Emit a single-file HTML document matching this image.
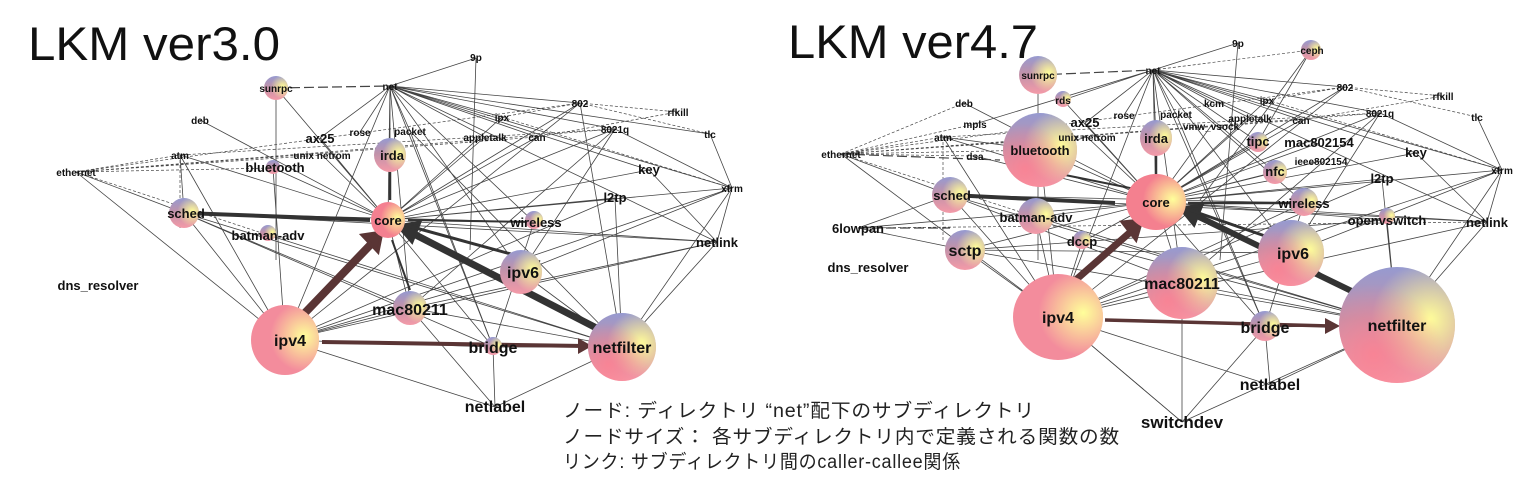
<!DOCTYPE html>
<html><head><meta charset="utf-8"><style>
html,body{margin:0;padding:0;background:#fff;}
svg{display:block;}
.t{font-family:"Liberation Sans",sans-serif;font-weight:bold;fill:#111;text-anchor:middle;}
.s{font-size:10px;}.m{font-size:13px;}.l{font-size:16px;}.x{font-size:17px;}
.h{font-family:"Liberation Sans","Noto Sans CJK JP",sans-serif;font-size:47px;fill:#111;font-weight:normal;}
.c{font-family:"Liberation Sans","Noto Sans CJK JP",sans-serif;font-size:19px;fill:#222;letter-spacing:0.8px;}
</style></head><body>
<svg width="1531" height="504" viewBox="0 0 1531 504" xmlns="http://www.w3.org/2000/svg">
<defs>
<linearGradient id="gb" x1="0" y1="0" x2="0" y2="1">
<stop offset="0" stop-color="#969ad0"/><stop offset="0.45" stop-color="#c092aa"/><stop offset="1" stop-color="#f49aa8"/></linearGradient>
<radialGradient id="gy" cx="0.78" cy="0.45" r="0.5">
<stop offset="0" stop-color="#ffff9a" stop-opacity="1"/><stop offset="1" stop-color="#ffff9a" stop-opacity="0"/></radialGradient>
<radialGradient id="gp" cx="0.3" cy="0.75" r="0.6">
<stop offset="0" stop-color="#ff7f90" stop-opacity="0.8"/><stop offset="1" stop-color="#ff7f90" stop-opacity="0"/></radialGradient>
</defs>

<text class="h" x="28" y="60" textLength="252" lengthAdjust="spacingAndGlyphs">LKM ver3.0</text>
<text class="h" x="788" y="58" textLength="250" lengthAdjust="spacingAndGlyphs">LKM ver4.7</text>

<!-- LEFT edges -->
<g stroke="#444" stroke-width="0.8" fill="none">
<path d="M390,86L476,58M390,86L580,103M390,86L502,117M390,86L615,129M390,86L537,137M390,86L485,137M390,86L320,138M390,86L360,132M390,86L410,131M390,86L390,155M390,86L388,220M390,86L534,222M390,86L649,170M390,86L732,188M390,86L717,242M390,86L710,134M390,86L521,272M390,86L285,340M390,86L410,308M390,86L493,347M476,58L470,250"/>
<path d="M388,220L320,138M388,220L322,155M388,220L485,137M388,220L537,137M388,220L502,117M388,220L580,103M388,220L615,129M388,220L649,170M388,220L615,198M388,220L732,188M388,220L717,242M388,220L273,168M388,220L180,155M388,220L200,120M388,220L410,308M388,220L493,347M388,220L276,88"/>
<path d="M285,340L184,213M285,340L495,407M285,340L410,308M285,340L521,272M285,340L732,188M285,340L717,242M285,340L493,347M285,340L76,172M285,340L180,155M285,340L273,168M285,340L615,198M285,340L580,103"/>
<path d="M622,347L493,347M622,347L495,407M622,347L521,272M622,347L732,188M622,347L717,242M622,347L615,198M622,347L184,213M622,347L268,235M622,347L410,308M622,347L410,131M622,347L580,103M622,347L732,188"/>
<path d="M184,213L76,172M184,213L410,308M184,213L534,222M184,213L717,242M184,213L493,347M184,213L180,155M493,347L410,131M493,347L534,222M493,347L495,407M495,407L410,308M521,272L732,188M521,272L615,129M410,308L615,129M410,308L717,242M717,242L732,188M717,242L649,170M732,188L710,134M732,188L615,129M276,88L276,260"/>
</g>
<g stroke="#444" stroke-width="0.7" fill="none" stroke-dasharray="3,2">
<path d="M76,172L180,155M76,172L580,103M76,172L615,129M76,172L537,137M76,172L322,155M76,172L273,168M76,172L268,235M580,103L710,134M580,103L678,112M580,103L502,117M615,129L180,155M678,112L537,137M502,117L732,188M180,155L180,230"/>
<path d="M276,88L390,86" stroke-dasharray="10,4" stroke-width="1.2"/>
</g>
<g fill="none">
<path d="M184,213L370,220" stroke="#333" stroke-width="4"/>
<path d="M300,318L375,240" stroke="#5a3535" stroke-width="8"/>
<path d="M362,235L382,232L378,252z" fill="#5a3535" stroke="#5a3535" stroke-width="3"/>
<path d="M610,335L410,232" stroke="#333" stroke-width="7"/>
<path d="M398,226L420,222L412,242z" fill="#333" stroke="#333" stroke-width="3"/>
<path d="M322,342L585,346" stroke="#5a3535" stroke-width="4"/>
<path d="M578,338L592,346L578,354z" fill="#5a3535"/>
<path d="M540,262L405,225" stroke="#333" stroke-width="3"/>
<path d="M410,290L392,240" stroke="#333" stroke-width="2"/>
<path d="M390,172L390,200" stroke="#333" stroke-width="2.5"/>
<path d="M534,222L408,220" stroke="#333" stroke-width="2"/>
</g>
<!-- LEFT nodes -->
<g>
<circle cx="276" cy="88" r="12" fill="url(#gb)"/><circle cx="276" cy="88" r="12" fill="url(#gy)"/>
<ellipse cx="390" cy="155" rx="16" ry="17" fill="url(#gb)"/><ellipse cx="390" cy="155" rx="16" ry="17" fill="url(#gy)"/>
<circle cx="273" cy="167" r="7" fill="url(#gb)"/>
<circle cx="184" cy="213" r="15" fill="url(#gb)"/><circle cx="184" cy="213" r="15" fill="url(#gy)"/>
<ellipse cx="388" cy="220" rx="17" ry="18" fill="#f48090"/><ellipse cx="388" cy="220" rx="17" ry="18" fill="url(#gy)"/>
<circle cx="534" cy="220" r="9" fill="url(#gb)"/><circle cx="534" cy="220" r="9" fill="url(#gy)"/>
<circle cx="268" cy="233" r="8" fill="url(#gb)"/><circle cx="268" cy="233" r="8" fill="url(#gy)"/>
<ellipse cx="521" cy="272" rx="21" ry="22" fill="url(#gb)"/><ellipse cx="521" cy="272" rx="21" ry="22" fill="url(#gy)"/>
<circle cx="410" cy="308" r="17" fill="url(#gb)"/><circle cx="410" cy="308" r="17" fill="url(#gy)"/>
<ellipse cx="285" cy="340" rx="34" ry="35" fill="#f38c9c"/><ellipse cx="285" cy="340" rx="34" ry="35" fill="url(#gy)"/>
<circle cx="493" cy="346" r="9" fill="url(#gb)"/><circle cx="493" cy="346" r="9" fill="url(#gy)"/>
<circle cx="622" cy="347" r="34" fill="url(#gb)"/><circle cx="622" cy="347" r="34" fill="url(#gy)"/><circle cx="622" cy="347" r="34" fill="url(#gp)"/>
</g>
<g class="t">
<text class="s" x="476" y="61">9p</text>
<text class="s" x="390" y="90">net</text>
<text class="s" x="276" y="92">sunrpc</text>
<text class="s" x="580" y="107">802</text>
<text class="s" x="678" y="116">rfkill</text>
<text class="s" x="502" y="121">ipx</text>
<text class="s" x="615" y="133">8021q</text>
<text class="s" x="710" y="138">tlc</text>
<text class="s" x="200" y="124">deb</text>
<text class="m" x="320" y="143">ax25</text>
<text class="s" x="360" y="136">rose</text>
<text class="s" x="410" y="135">packet</text>
<text class="m" x="392" y="160">irda</text>
<text class="s" x="485" y="141">appletalk</text>
<text class="s" x="537" y="141">can</text>
<text class="s" x="180" y="159">atm</text>
<text class="s" x="322" y="159">unix netrom</text>
<text class="m" x="275" y="172">bluetooth</text>
<text class="s" x="76" y="176">ethernet</text>
<text class="m" x="649" y="174">key</text>
<text class="s" x="732" y="192">xfrm</text>
<text class="m" x="615" y="202">l2tp</text>
<text class="m" x="186" y="218">sched</text>
<text class="m" x="388" y="225">core</text>
<text class="m" x="536" y="227">wireless</text>
<text class="m" x="268" y="240">batman-adv</text>
<text class="m" x="717" y="247">netlink</text>
<text class="m" x="98" y="290">dns_resolver</text>
<text class="l" x="523" y="278">ipv6</text>
<text class="l" x="410" y="315">mac80211</text>
<text class="l" x="290" y="346">ipv4</text>
<text class="l" x="493" y="353">bridge</text>
<text class="l" x="622" y="353">netfilter</text>
<text class="l" x="495" y="412">netlabel</text>
</g>

<!-- RIGHT edges -->
<g stroke="#444" stroke-width="0.8" fill="none">
<path d="M1153,70L1238,43M1153,70L1345,87M1153,70L1267,100M1153,70L1214,103M1153,70L1380,113M1153,70L1301,120M1153,70L1250,118M1153,70L1124,115M1153,70L1176,114M1153,70L1085,123M1153,70L1156,138M1153,70L1156,202M1153,70L1304,203M1153,70L1416,153M1153,70L1502,170M1153,70L1487,222M1153,70L1291,253M1153,70L1058,317M1153,70L1182,283M1153,70L1265,327M1153,70L1258,142M1153,70L1275,172M1153,70L1063,100M1153,70L975,124M1238,43L1220,260M1311,50L1200,200"/>
<path d="M1156,202L1085,123M1156,202L1087,137M1156,202L1250,118M1156,202L1301,120M1156,202L1267,100M1156,202L1345,87M1156,202L1380,113M1156,202L1416,153M1156,202L1382,179M1156,202L1502,170M1156,202L1487,222M1156,202L1319,143M1156,202L1321,161M1156,202L1258,142M1156,202L1275,172M1156,202L1387,220M1156,202L1040,150M1156,202L943,137M1156,202L964,103M1156,202L975,156M1156,202L1082,242M1156,202L965,250M1156,202L1182,283M1156,202L1265,327M1156,202L1036,217M1156,202L858,228M1156,202L1063,100M1156,202L1211,126"/>
<path d="M1058,317L950,195M1058,317L1270,385M1058,317L1182,422M1058,317L1182,283M1058,317L1291,253M1058,317L1502,170M1058,317L1487,222M1058,317L965,250M1058,317L841,154M1058,317L943,137M1058,317L1040,150M1058,317L1382,179M1058,317L1082,242M1058,317L1036,217M1058,317L1345,87M1058,317L1304,203"/>
<path d="M1397,325L1265,327M1397,325L1270,385M1397,325L1182,422M1397,325L1291,253M1397,325L1502,170M1397,325L1487,222M1397,325L1382,179M1397,325L950,195M1397,325L1036,217M1397,325L1182,283M1397,325L1387,220M1397,325L965,250M1397,325L1082,242"/>
<path d="M950,195L841,154M950,195L858,228M950,195L1182,283M950,195L1304,203M950,195L1487,222M965,250L858,228M965,250L1291,253M965,250L1387,220M1265,327L1176,114M1265,327L1304,203M1265,327L1270,385M1265,327L1182,422M1182,422L1182,283M1182,422L1058,317M1291,253L1502,170M1291,253L1380,113M1182,283L1380,113M1487,222L1502,170M1487,222L1416,153M1502,170L1477,117M1502,170L1380,113M1038,75L1038,260M1040,150L1087,137M1040,150L943,137M1311,50L1258,142"/>
</g>
<g stroke="#444" stroke-width="0.7" fill="none" stroke-dasharray="3,2">
<path d="M841,154L943,137M841,154L1345,87M841,154L1380,113M841,154L1301,120M841,154L1087,137M841,154L975,156M841,154L1040,150M841,154L1036,217M841,154L964,103M841,154L975,124M1345,87L1477,117M1345,87L1443,96M1345,87L1267,100M1380,113L943,137M1443,96L1301,120M1267,100L1502,170M1153,70L1311,50M858,228L1487,222M943,137L943,240"/>
<path d="M1038,75L1153,70M841,154L1000,160M858,228L950,228" stroke-dasharray="10,4" stroke-width="1.2"/>
</g>
<g fill="none">
<path d="M950,195L1115,203" stroke="#333" stroke-width="4"/>
<path d="M1070,285L1135,228" stroke="#5a3535" stroke-width="7"/>
<path d="M1122,222L1142,220L1136,240z" fill="#5a3535" stroke="#5a3535" stroke-width="3"/>
<path d="M1370,300L1195,215" stroke="#333" stroke-width="6"/>
<path d="M1180,208L1202,205L1194,225z" fill="#333" stroke="#333" stroke-width="3"/>
<path d="M1105,320L1330,326" stroke="#5a3535" stroke-width="3.5"/>
<path d="M1325,318L1340,326L1325,334z" fill="#5a3535"/>
<path d="M1291,245L1190,210" stroke="#333" stroke-width="3"/>
<path d="M1304,203L1188,203" stroke="#333" stroke-width="2.5"/>
<path d="M1156,155L1156,174" stroke="#333" stroke-width="2.5"/>
<path d="M1040,170L1140,190" stroke="#333" stroke-width="2"/>
</g>
<!-- RIGHT nodes -->
<g>
<circle cx="1311" cy="50" r="10" fill="url(#gb)"/><circle cx="1311" cy="50" r="10" fill="url(#gy)"/>
<circle cx="1038" cy="75" r="19" fill="url(#gb)"/><circle cx="1038" cy="75" r="19" fill="url(#gy)"/>
<circle cx="1063" cy="99" r="8" fill="url(#gb)"/><circle cx="1063" cy="99" r="8" fill="url(#gy)"/>
<circle cx="1040" cy="150" r="37" fill="url(#gb)"/><circle cx="1040" cy="150" r="37" fill="url(#gy)"/><circle cx="1040" cy="150" r="37" fill="url(#gp)"/>
<ellipse cx="1156" cy="138" rx="16" ry="18" fill="url(#gb)"/><ellipse cx="1156" cy="138" rx="16" ry="18" fill="url(#gy)"/>
<circle cx="1258" cy="142" r="10" fill="url(#gb)"/><circle cx="1258" cy="142" r="10" fill="url(#gy)"/>
<circle cx="1275" cy="172" r="12" fill="url(#gb)"/><circle cx="1275" cy="172" r="12" fill="url(#gy)"/>
<circle cx="950" cy="195" r="18" fill="url(#gb)"/><circle cx="950" cy="195" r="18" fill="url(#gy)"/>
<ellipse cx="1156" cy="202" rx="30" ry="28" fill="#f4808f"/><ellipse cx="1156" cy="202" rx="30" ry="28" fill="url(#gy)"/>
<circle cx="1304" cy="202" r="14" fill="url(#gb)"/><circle cx="1304" cy="202" r="14" fill="url(#gy)"/>
<circle cx="1036" cy="216" r="18" fill="url(#gb)"/><circle cx="1036" cy="216" r="18" fill="url(#gy)"/>
<circle cx="1387" cy="216" r="8" fill="url(#gb)"/><circle cx="1387" cy="216" r="8" fill="url(#gy)"/>
<circle cx="1082" cy="240" r="9" fill="url(#gb)"/><circle cx="1082" cy="240" r="9" fill="url(#gy)"/>
<circle cx="965" cy="250" r="20" fill="url(#gb)"/><circle cx="965" cy="250" r="20" fill="url(#gy)"/>
<circle cx="1291" cy="253" r="33" fill="url(#gb)"/><circle cx="1291" cy="253" r="33" fill="url(#gy)"/><circle cx="1291" cy="253" r="33" fill="url(#gp)"/>
<circle cx="1182" cy="283" r="36" fill="url(#gb)"/><circle cx="1182" cy="283" r="36" fill="url(#gy)"/><circle cx="1182" cy="283" r="36" fill="url(#gp)"/>
<ellipse cx="1058" cy="317" rx="45" ry="43" fill="#f38c9c"/><ellipse cx="1058" cy="317" rx="45" ry="43" fill="url(#gy)"/>
<circle cx="1265" cy="326" r="15" fill="url(#gb)"/><circle cx="1265" cy="326" r="15" fill="url(#gy)"/>
<circle cx="1397" cy="325" r="58" fill="url(#gb)"/><circle cx="1397" cy="325" r="58" fill="url(#gy)"/><circle cx="1397" cy="325" r="58" fill="url(#gp)"/>
</g>
<g class="t">
<text class="s" x="1238" y="47">9p</text>
<text class="s" x="1312" y="54">ceph</text>
<text class="s" x="1153" y="74">net</text>
<text class="s" x="1038" y="79">sunrpc</text>
<text class="s" x="1345" y="91">802</text>
<text class="s" x="1443" y="100">rfkill</text>
<text class="s" x="1063" y="104">rds</text>
<text class="s" x="964" y="107">deb</text>
<text class="s" x="1214" y="107">kcm</text>
<text class="s" x="1267" y="104">ipx</text>
<text class="s" x="1380" y="117">8021q</text>
<text class="s" x="1477" y="121">tlc</text>
<text class="s" x="1124" y="119">rose</text>
<text class="s" x="1176" y="118">packet</text>
<text class="s" x="975" y="128">mpls</text>
<text class="m" x="1085" y="127">ax25</text>
<text class="s" x="1250" y="122">appletalk</text>
<text class="s" x="1301" y="124">can</text>
<text class="s" x="1211" y="130">vmw_vsock</text>
<text class="m" x="1040" y="155">bluetooth</text>
<text class="s" x="1087" y="141">unix netrom</text>
<text class="m" x="1156" y="143">irda</text>
<text class="s" x="943" y="141">atm</text>
<text class="m" x="1258" y="146">tipc</text>
<text class="m" x="1319" y="147">mac802154</text>
<text class="s" x="841" y="158">ethernet</text>
<text class="s" x="975" y="160">dsa</text>
<text class="m" x="1416" y="157">key</text>
<text class="s" x="1321" y="165">ieee802154</text>
<text class="m" x="1275" y="176">nfc</text>
<text class="s" x="1502" y="174">xfrm</text>
<text class="m" x="1382" y="183">l2tp</text>
<text class="m" x="952" y="200">sched</text>
<text class="m" x="1156" y="207">core</text>
<text class="m" x="1304" y="208">wireless</text>
<text class="m" x="1036" y="222">batman-adv</text>
<text class="m" x="1387" y="225">openvswitch</text>
<text class="m" x="1487" y="227">netlink</text>
<text class="m" x="858" y="233">6lowpan</text>
<text class="m" x="1082" y="246">dccp</text>
<text class="l" x="965" y="256">sctp</text>
<text class="l" x="1293" y="259">ipv6</text>
<text class="m" x="868" y="272">dns_resolver</text>
<text class="l" x="1182" y="289">mac80211</text>
<text class="l" x="1058" y="323">ipv4</text>
<text class="l" x="1265" y="333">bridge</text>
<text class="l" x="1397" y="331">netfilter</text>
<text class="l" x="1270" y="390">netlabel</text>
<text class="x" x="1182" y="428">switchdev</text>
</g>

<text class="c" x="563" y="417" textLength="472" lengthAdjust="spacingAndGlyphs">ノード: ディレクトリ “net”配下のサブディレクトリ</text>
<text class="c" x="563" y="443" textLength="557" lengthAdjust="spacingAndGlyphs">ノードサイズ： 各サブディレクトリ内で定義される関数の数</text>
<text class="c" x="563" y="468" textLength="398" lengthAdjust="spacingAndGlyphs">リンク: サブディレクトリ間のcaller-callee関係</text>
</svg>
</body></html>
